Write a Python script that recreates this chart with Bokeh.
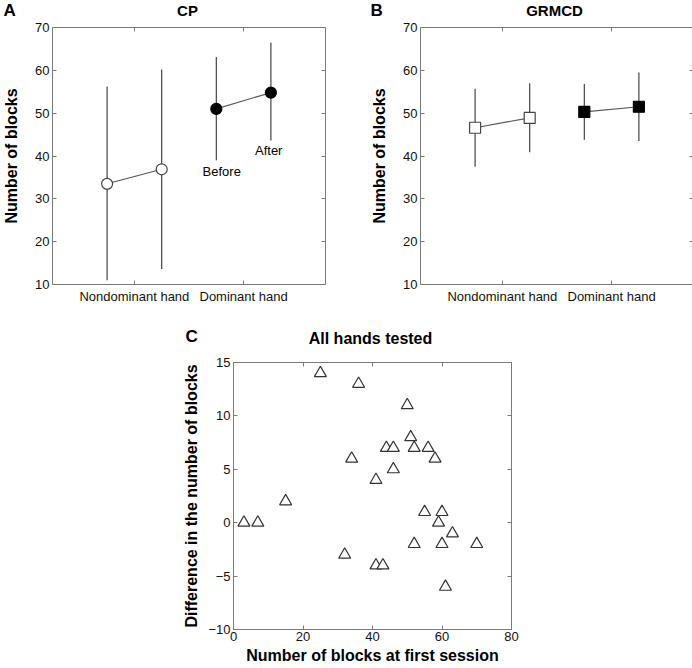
import numpy as np
from bokeh.plotting import figure
from bokeh.models import ColumnDataSource, Label, LinearAxis, FixedTicker, Range1d, Spacer
from bokeh.core.properties import value
from bokeh.layouts import column, row
from bokeh.embed import file_html
from bokeh.resources import INLINE

# ---------------- data ----------------
hands = ["Nondominant hand", "Dominant hand"]

cp_before = [33.5, 51.0]
cp_before_lo = [11.0, 39.0]
cp_before_hi = [56.2, 63.1]
cp_after = [36.9, 54.8]
cp_after_lo = [13.6, 43.6]
cp_after_hi = [60.2, 66.5]

grmcd_before = [46.6, 50.3]
grmcd_before_lo = [37.5, 43.8]
grmcd_before_hi = [55.7, 56.8]
grmcd_after = [48.9, 51.5]
grmcd_after_lo = [40.9, 43.5]
grmcd_after_hi = [57.0, 59.5]

first_session = [3, 7, 15, 25, 36, 32, 34, 41, 41, 43, 44, 46, 46, 50, 51,
                 52, 52, 55, 56, 58, 59, 60, 60, 61, 63, 70]
difference = [0, 0, 2, 14, 13, -3, 6, 4, -4, -4, 7, 7, 5, 11, 8,
              7, -2, 1, 7, 6, 0, 1, -2, -6, -1, -2]

ab_yticks = [10, 20, 30, 40, 50, 60, 70]
c_xticks = [0, 20, 40, 60, 80]
c_yticks = [-10, -5, 0, 5, 10, 15]

FONT = "Liberation Sans"
FRAME = "#7a7a7a"
DARK = "#333333"
W = 692


def style(p, xticks, yticks):
    p.outline_line_color = FRAME
    p.outline_line_width = 1
    p.xgrid.visible = False
    p.ygrid.visible = False
    xa, ya = p.xaxis[0], p.yaxis[0]
    for ax in (xa, ya):
        ax.axis_line_color = None
        ax.major_tick_in = 4
        ax.major_tick_out = 0
        ax.minor_tick_line_color = None
        ax.major_tick_line_color = FRAME
        ax.major_label_text_font = FONT
        ax.major_label_text_font_size = "13px"
        ax.major_label_text_color = "#111111"
        ax.major_label_standoff = 3
        ax.axis_label_text_font = FONT
        ax.axis_label_text_font_size = "16px"
        ax.axis_label_text_font_style = "bold"
        ax.axis_label_text_color = "#000000"
        ax.axis_label_standoff = 12
    xa.ticker = FixedTicker(ticks=list(xticks))
    ya.ticker = FixedTicker(ticks=list(yticks))
    r = LinearAxis(ticker=FixedTicker(ticks=list(yticks)), major_label_text_font_size="0px",
                   major_label_standoff=0, axis_line_color=None, major_tick_in=4,
                   major_tick_out=0, minor_tick_line_color=None, major_tick_line_color=FRAME)
    p.add_layout(r, "right")
    t = LinearAxis(ticker=FixedTicker(ticks=list(xticks)), major_label_text_font_size="0px",
                   major_label_standoff=0, axis_line_color=None, major_tick_in=4,
                   major_tick_out=0, minor_tick_line_color=None, major_tick_line_color=FRAME)
    p.add_layout(t, "above")
    return xa, ya


def strip(h, texts):
    """A header band: texts = list of (x, y_from_top, string, size, align)."""
    s = figure(width=W, height=h, min_border=0, x_range=Range1d(0, W), y_range=Range1d(h, 0),
               output_backend="svg", toolbar_location=None)
    s.axis.visible = False
    s.grid.visible = False
    s.outline_line_color = None
    for x, y, t, size, align in texts:
        s.text(x=[x], y=[y], text=[t], text_font=value(FONT), text_font_size=size,
               text_font_style="bold", text_align=align, text_baseline="middle",
               text_color="#000000")
    return s


FW, FH = 273, 257


def panel(before, blo, bhi, after, alo, ahi, marker, bl, br):
    pos = np.arange(1, len(hands) + 1)
    xb = pos - 0.25
    xa_ = pos + 0.25
    p = figure(frame_width=FW, frame_height=FH, min_border_left=bl,
               min_border_right=br, min_border_top=8, min_border_bottom=36,
               x_range=Range1d(0.25, 2.75), y_range=Range1d(10, 70),
               output_backend="svg", toolbar_location=None)
    xax, yax = style(p, [int(v) for v in pos], ab_yticks)
    ov = {}
    for v, h in zip(pos, hands):
        ov[int(v)] = h
        ov[str(int(v))] = h
    xax.major_label_overrides = ov
    xax.major_label_standoff = 4
    yax.axis_label = "Number of blocks"
    src = ColumnDataSource(dict(xb=xb, xa=xa_, b=before, blo=blo, bhi=bhi,
                                a=after, alo=alo, ahi=ahi))
    p.segment(x0="xb", y0="blo", x1="xb", y1="bhi", source=src, line_color=DARK, line_width=1.1)
    p.segment(x0="xa", y0="alo", x1="xa", y1="ahi", source=src, line_color=DARK, line_width=1.1)
    p.segment(x0="xb", y0="b", x1="xa", y1="a", source=src, line_color="#555555", line_width=1.1)
    fills = ["white", "black"]
    for i in range(len(hands)):
        s = ColumnDataSource(dict(x=[xb[i], xa_[i]], y=[before[i], after[i]]))
        p.scatter("x", "y", source=s, marker=marker, size=11,
                  fill_color=fills[i], line_color="#444444" if i == 0 else "black",
                  line_width=1.2)
    return p


pA = panel(cp_before, cp_before_lo, cp_before_hi, cp_after, cp_after_lo,
           cp_after_hi, "circle", 49, 8)
for s_, x_, y_ in (("Before", 1.80, 36.4), ("After", 2.23, 41.2)):
    pA.add_layout(Label(x=x_, y=y_, text=s_, text_font=FONT, text_font_size="13px",
                        text_align="center", text_baseline="middle", text_color="#000000"))

pB = panel(grmcd_before, grmcd_before_lo, grmcd_before_hi, grmcd_after,
           grmcd_after_lo, grmcd_after_hi, "square", 87, 2)

head1 = strip(19, [(3, 9.5, "A", "17px", "left"), (187, 9.5, "CP", "15px", "center"),
                   (370, 9.5, "B", "17px", "left"), (554, 9.5, "GRMCD", "15px", "center")])
head2 = strip(28, [(185, 16, "C", "17px", "left"), (370, 18, "All hands tested", "16px", "center")])

CFW, CFH = 278, 267
pC = figure(frame_width=CFW, frame_height=CFH, min_border_left=51, min_border_right=10,
            min_border_top=14, min_border_bottom=39,
            x_range=Range1d(0, 80), y_range=Range1d(-10, 15),
            output_backend="svg", toolbar_location=None)
cx, cy = style(pC, c_xticks, c_yticks)
cy.major_label_overrides = {v: ("\u2212" + str(-v) if v < 0 else str(v)) for v in c_yticks}
cx.axis_label = "Number of blocks at first session"
cy.axis_label = "Difference in the number of blocks"
cx.major_label_standoff = 2
cx.axis_label_standoff = 3
cy.axis_label_standoff = 5
srcC = ColumnDataSource(dict(x=first_session, y=difference))
pC.scatter("x", "y", source=srcC, marker="triangle", size=12, fill_color="white",
           line_color="#333333", line_width=1.2)

layout = column(head1, row(pA, pB), head2, row(Spacer(width=180, height=10), pC))
open("out.html", "w").write(file_html(layout, INLINE))
